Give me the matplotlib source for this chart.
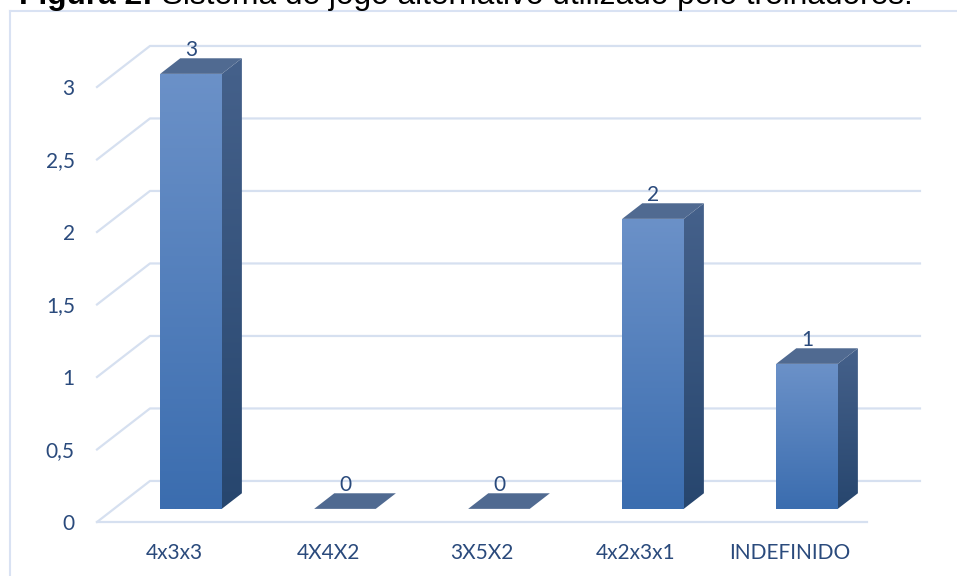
import matplotlib.pyplot as plt
import numpy as np
from matplotlib.patches import Polygon
from matplotlib.lines import Line2D
from matplotlib.colors import to_rgb

# Sistemas de jogo e número de treinadores
categorias = ["4x3x3", "4X4X2", "3X5X2", "4x2x3x1", "INDEFINIDO"]
valores = [3, 0, 0, 2, 1]
marcas_y = [0, 0.5, 1, 1.5, 2, 2.5, 3]
rotulos_y = ["0", "0,5", "1", "1,5", "2", "2,5", "3"]

# perspectiva: deslocamento (em unidades de dados) para a profundidade total
OX, OY = 0.344, 0.283
Z0, Z1 = 0.32, 0.70      # frente e fundo das barras
LARG = 0.40
YMAX = 3.4               # folga acima do 3 para o topo das barras

COR_TXT = "#2A4A7C"
COR_GRADE = "#D6E0F0"
FONTE = "Lato"


def proj(x, y, z):
    return x + z * OX, y + z * OY


fig = plt.figure(figsize=(9.57, 5.76), dpi=100)
ax = fig.add_axes([97 / 957, 54 / 576, 770 / 957, YMAX * 145 / 576])
ax.patch.set_visible(False)
for s in ax.spines.values():
    s.set_visible(False)


def face(verts, c_topo, c_base, z=3):
    verts = np.array(verts)
    xmin, ymin = verts.min(0)
    xmax, ymax = verts.max(0)
    t = np.linspace(0, 1, 128)[:, None, None]
    grad = (1 - t) * np.array(to_rgb(c_base)) + t * np.array(to_rgb(c_topo))
    grad = np.repeat(grad, 2, axis=1)
    im = ax.imshow(grad, extent=(xmin, xmax, ymin, ymax), origin="lower",
                   aspect="auto", interpolation="bilinear", zorder=z)
    im.set_clip_path(Polygon(verts, closed=True, transform=ax.transData))


# grade: parede lateral + parede do fundo
x0, x1 = -0.5, 4.5
for v in marcas_y:
    xa, ya = proj(x0, v, 0)
    xb, yb = proj(x0, v, 1)
    xc, yc = proj(x1, v, 1)
    ax.plot([xa, xb, xc], [ya, yb, yc], color=COR_GRADE, lw=1.6,
            clip_on=False, zorder=1)
ax.plot([x0, x1], [0, 0], color=COR_GRADE, lw=1.6, clip_on=False, zorder=1)

# barras 3D
for i, v in enumerate(valores):
    xl, xr = i - LARG / 2, i + LARG / 2
    fl = proj(xl, 0, Z0)
    fr = proj(xr, 0, Z0)
    tl = proj(xl, v, Z0)
    tr = proj(xr, v, Z0)
    br = proj(xr, 0, Z1)
    tbr = proj(xr, v, Z1)
    tbl = proj(xl, v, Z1)
    if v > 0:
        face([fl, fr, tr, tl], "#6B91C8", "#3B6DAF")
        face([fr, br, tbr, tr], "#45618B", "#27466E")
    ax.add_patch(Polygon([tl, tr, tbr, tbl], closed=True, fc="#506A91",
                         ec="none", zorder=4, clip_on=False))
    ax.annotate(str(v), xy=(i + Z0 * OX, v + Z1 * OY), xytext=(0, 1.5),
                textcoords="offset points", ha="center", va="baseline",
                color=COR_TXT, fontsize=15, family=FONTE,
                annotation_clip=False)

ax.set_xlim(-0.5, 4.5)
ax.set_ylim(0, YMAX)
ax.set_xticks(range(len(categorias)), categorias)
ax.set_yticks(marcas_y, rotulos_y)
ax.tick_params(axis="x", length=0, pad=15, colors=COR_TXT, labelsize=15)
ax.tick_params(axis="y", length=0, pad=16, colors=COR_TXT, labelsize=15)
for lab in ax.get_xticklabels() + ax.get_yticklabels():
    lab.set_family(FONTE)

# moldura do gráfico (só topo e esquerda aparecem)
fig.add_artist(Line2D([9.5 / 957, 9.5 / 957], [0, 1 - 11 / 576],
                      color="#D9E2F3", lw=1.5))
fig.add_artist(Line2D([9.5 / 957, 1], [1 - 11 / 576, 1 - 11 / 576],
                      color="#D9E2F3", lw=1.5))

# título (cortado no topo)
t1 = fig.text(19 / 957, 1 - 4 / 576, "Figura 2:", fontsize=22.8,
              weight="bold", family="Liberation Sans", va="baseline")
fig.canvas.draw()
bb = t1.get_window_extent(fig.canvas.get_renderer())
fig.text(bb.x1 / 957, 1 - 4 / 576,
         " Sistema de jogo alternativo utilizado pelo treinadores.",
         fontsize=22.8, family="Liberation Sans", va="baseline")

fig.savefig("out.png", dpi=100)
